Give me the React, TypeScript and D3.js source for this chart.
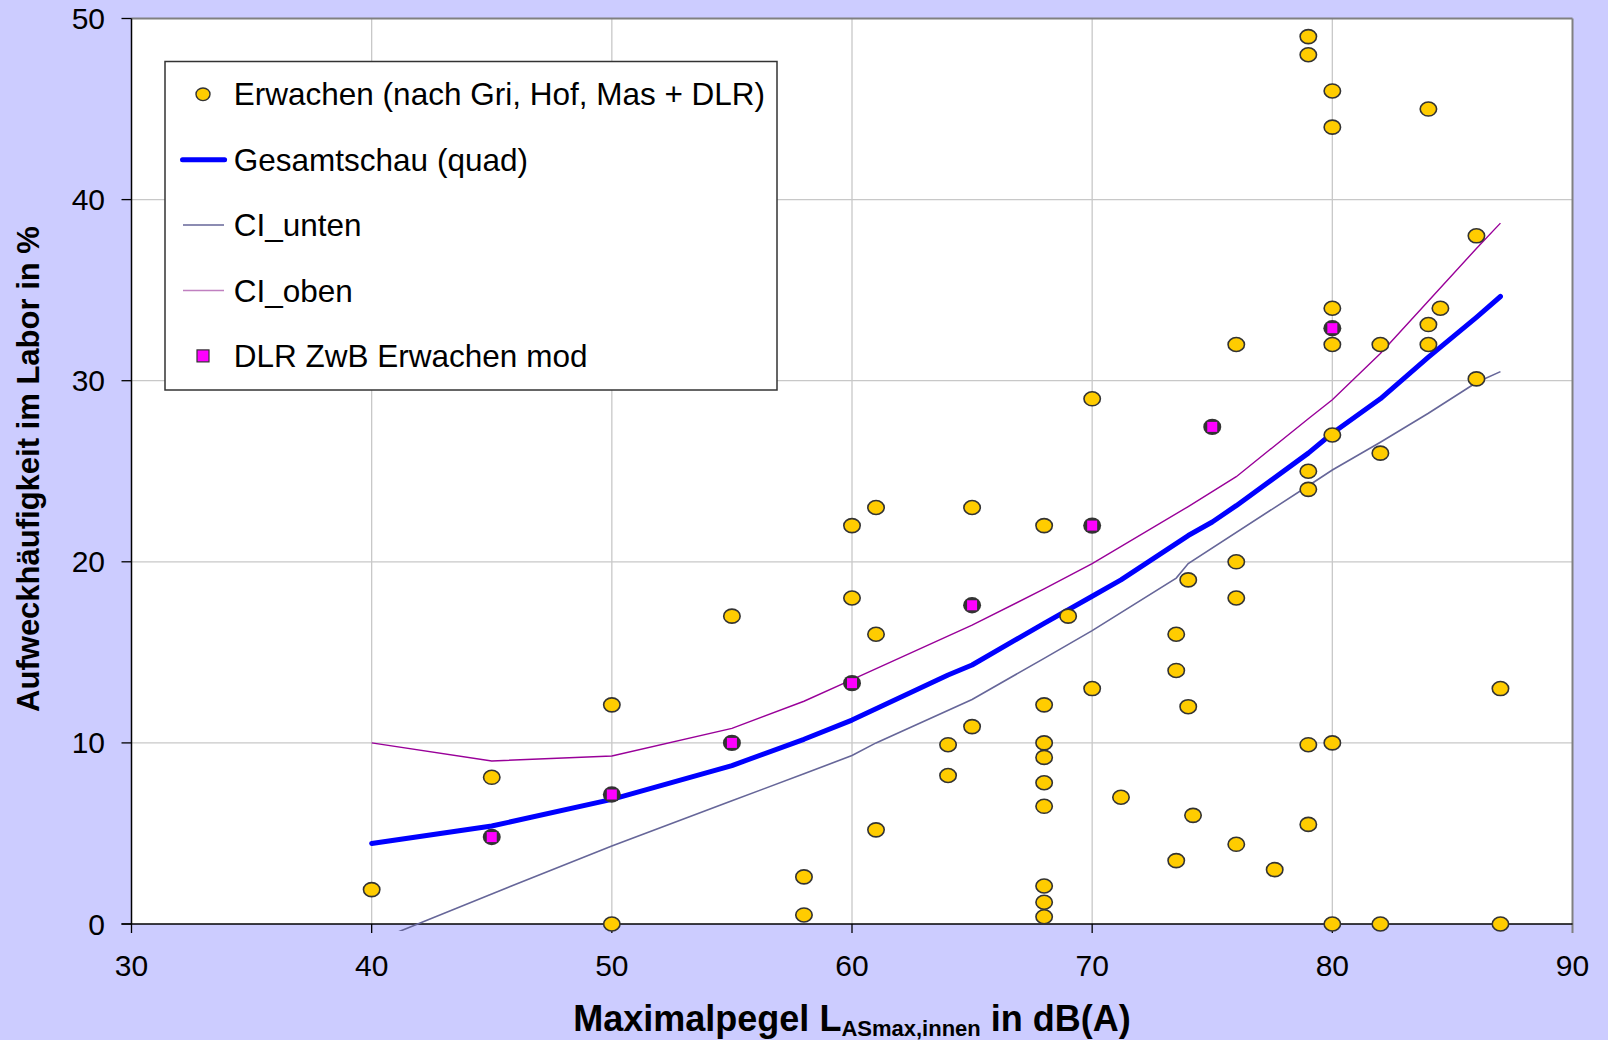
import React from 'react';
import * as d3 from 'd3';

const W = 1608;
const H = 1040;

const xTicks = [30, 40, 50, 60, 70, 80, 90];
const yTicks = [0, 10, 20, 30, 40, 50];

// Erwachen (nach Gri, Hof, Mas + DLR)
const erwachenX = [40, 45, 50, 50, 55, 58, 58, 60, 60, 61, 61, 61, 64, 64, 65, 65,
  68, 68, 68, 68, 68, 68, 68, 68, 68, 69, 70, 70, 71.2, 73.5, 73.5, 73.5, 74, 74, 74.2,
  76, 76, 76, 76, 77.6, 79, 79, 79, 79, 79, 79, 80, 80, 80, 80, 80, 80, 80,
  82, 82, 82, 84, 84, 84, 84.5, 86, 86, 87, 87];
const erwachenY = [1.9, 8.1, 12.1, 0, 17, 2.6, 0.5, 22, 18, 23, 16, 5.2, 9.9, 8.2, 23, 10.9,
  22, 12.1, 10, 9.2, 7.8, 6.5, 2.1, 1.2, 0.4, 17, 29, 13, 7, 16, 14, 3.5, 19, 12, 6,
  32, 20, 18, 4.4, 3, 49, 48, 25, 24, 9.9, 5.5, 46, 44, 34, 32, 27, 10, 0,
  32, 26, 0, 45, 33.1, 32, 34, 38, 30.1, 13, 0];

// DLR ZwB Erwachen mod
const dlrX = [45, 50, 55, 60, 65, 70, 75, 80];
const dlrY = [4.8, 7.15, 10.0, 13.3, 17.6, 22.0, 27.45, 32.9];

// Gesamtschau (quad)
const gesamtX = [40, 45, 50, 55, 58, 60, 64, 65, 68, 70, 71.2, 74, 75, 76, 79, 80, 82, 84, 86, 87];
const gesamtY = [4.45, 5.41, 6.88, 8.75, 10.2, 11.26, 13.75, 14.3, 16.6, 18.1, 19.0, 21.45, 22.2, 23.1, 26.0, 27.1, 29.0, 31.3, 33.5, 34.65];

// CI_unten
const ciUntenX = [40, 45, 50, 55, 58, 60, 61, 65, 68, 70, 73.5, 74, 79, 80, 82, 84, 86, 87];
const ciUntenY = [-1.03, 1.66, 4.31, 6.8, 8.3, 9.3, 10.0, 12.4, 14.67, 16.2, 19.1, 19.9, 24.2, 25.07, 26.6, 28.2, 29.9, 30.5];

// CI_oben
const ciObenX = [40, 45, 50, 55, 58, 60, 65, 68, 70, 74, 76, 79, 80, 82, 84, 86, 87];
const ciObenY = [10.0, 9.0, 9.28, 10.8, 12.3, 13.5, 16.5, 18.5, 19.9, 23.05, 24.7, 27.9, 28.95, 31.5, 34.4, 37.3, 38.7];

const legendLabels = [
  'Erwachen (nach Gri, Hof, Mas + DLR)',
  'Gesamtschau (quad)',
  'CI_unten',
  'CI_oben',
  'DLR ZwB Erwachen mod',
];

const xTitleMain = 'Maximalpegel L';
const xTitleSub = 'ASmax,innen';
const xTitleEnd = ' in dB(A)';
const yTitle = 'Aufweckhäufigkeit im Labor in %';

const FONT = '"Liberation Sans", Arial, Helvetica, sans-serif';

const x = d3.scaleLinear().domain([30, 90]).range([131.5, 1572.5]);
const y = d3.scaleLinear().domain([0, 50]).range([924, 18.5]);

const lineGen = d3
  .line<[number, number]>()
  .x((d) => x(d[0]))
  .y((d) => y(d[1]));

const zip = (a: number[], b: number[]) => a.map((v, i) => [v, b[i]] as [number, number]);

export default function App() {
  const [x0, x1] = x.range();
  const [y0, y1] = y.range(); // y0 bottom, y1 top
  const legX = 165;
  const legY = 61.5;
  const legW = 612;
  const legH = 328.5;
  const rowY = (i: number) => 94.3 + i * 65.4;
  const markX = 203;

  return (
    <div style={{ position: 'absolute', left: 0, top: 0 }}>
      <svg width={W} height={H} style={{ display: 'block' }}>
        <defs>
          <clipPath id="plotClip">
            <rect x={x0} y={y1} width={x1 - x0} height={y0 - y1 + 7} />
          </clipPath>
        </defs>
        <rect x={0} y={0} width={W} height={H} fill="#CCCCFF" />
        <rect x={x0} y={y1} width={x1 - x0} height={y0 - y1} fill="#FFFFFF" />

        {/* gridlines */}
        {xTicks.slice(1, -1).map((t) => (
          <line key={'gx' + t} x1={x(t)} x2={x(t)} y1={y1} y2={y0} stroke="#C8C8C8" strokeWidth={1.3} />
        ))}
        {yTicks.slice(1, -1).map((t) => (
          <line key={'gy' + t} x1={x0} x2={x1} y1={y(t)} y2={y(t)} stroke="#C8C8C8" strokeWidth={1.3} />
        ))}

        {/* border */}
        <line x1={x0} x2={x1} y1={y1} y2={y1} stroke="#808080" strokeWidth={2} />
        <line x1={x1} x2={x1} y1={y1} y2={y0 + 9} stroke="#808080" strokeWidth={2} />
        <line x1={x0} x2={x0} y1={y1} y2={y0} stroke="#000" strokeWidth={1.5} />
        <line x1={x0 - 10} x2={x1} y1={y0} y2={y0} stroke="#000" strokeWidth={1.5} />

        {/* ticks */}
        {yTicks.map((t) => (
          <line key={'ty' + t} x1={x0 - 10} x2={x0} y1={y(t)} y2={y(t)} stroke="#000" strokeWidth={1.3} />
        ))}
        {xTicks.slice(0, -1).map((t) => (
          <line key={'tx' + t} x1={x(t)} x2={x(t)} y1={y0} y2={y0 + 9} stroke="#000" strokeWidth={1.3} />
        ))}

        {/* tick labels */}
        {yTicks.map((t) => (
          <text key={'ly' + t} x={105} y={y(t) + 10.5} textAnchor="end" fontFamily={FONT} fontSize={30} fill="#000">
            {t}
          </text>
        ))}
        {xTicks.map((t) => (
          <text key={'lx' + t} x={x(t)} y={976} textAnchor="middle" fontFamily={FONT} fontSize={30} fill="#000">
            {t}
          </text>
        ))}

        {/* axis titles */}
        <text x={852} y={1031} textAnchor="middle" fontFamily={FONT} fontSize={36} fontWeight="bold" fill="#000">
          {xTitleMain}
          <tspan fontSize={22} dy={5}>{xTitleSub}</tspan>
          <tspan dy={-5}>{xTitleEnd}</tspan>
        </text>
        <text
          transform={`translate(39,469) rotate(-90)`}
          textAnchor="middle"
          fontFamily={FONT}
          fontSize={31}
          fontWeight="bold"
          fill="#000"
        >
          {yTitle}
        </text>

        {/* lines */}
        <g clipPath="url(#plotClip)" fill="none">
          <path d={lineGen(zip(ciUntenX, ciUntenY)) || ''} stroke="#666699" strokeWidth={1.6} />
          <path d={lineGen(zip(ciObenX, ciObenY)) || ''} stroke="#990099" strokeWidth={1.4} />
          <path d={lineGen(zip(gesamtX, gesamtY)) || ''} stroke="#0000FF" strokeWidth={5} strokeLinejoin="round" strokeLinecap="round" />
        </g>

        {/* Erwachen points */}
        {erwachenX.map((v, i) => (
          <ellipse key={'e' + i} cx={x(v)} cy={y(erwachenY[i])} rx={8.2} ry={7} fill="#FFCC00" stroke="#333" strokeWidth={1.6} />
        ))}

        {/* DLR points */}
        {dlrX.map((v, i) => (
          <g key={'d' + i}>
            <ellipse cx={x(v)} cy={y(dlrY[i])} rx={9} ry={8.2} fill="#333" />
            <rect x={x(v) - 5} y={y(dlrY[i]) - 5} width={10} height={10} fill="#FF00FF" />
          </g>
        ))}

        {/* legend */}
        <rect x={legX} y={legY} width={legW} height={legH} fill="#FFFFFF" stroke="#333" strokeWidth={1.5} />
        <ellipse cx={markX} cy={rowY(0)} rx={7} ry={6.3} fill="#FFCC00" stroke="#333" strokeWidth={1.4} />
        <line x1={182.5} x2={224.6} y1={rowY(1)} y2={rowY(1)} stroke="#0000FF" strokeWidth={5} strokeLinecap="round" />
        <line x1={183} x2={224} y1={rowY(2)} y2={rowY(2)} stroke="#666699" strokeWidth={1.5} />
        <line x1={183} x2={224} y1={rowY(3)} y2={rowY(3)} stroke="#C080C0" strokeWidth={1.5} />
        <rect x={markX - 6} y={rowY(4) - 6} width={12} height={12} fill="#FF00FF" stroke="#333" strokeWidth={1.2} />
        {legendLabels.map((l, i) => (
          <text key={'lg' + i} x={233.8} y={rowY(i) + 11} fontFamily={FONT} fontSize={31.5} fill="#000">
            {l}
          </text>
        ))}
      </svg>
    </div>
  );
}
